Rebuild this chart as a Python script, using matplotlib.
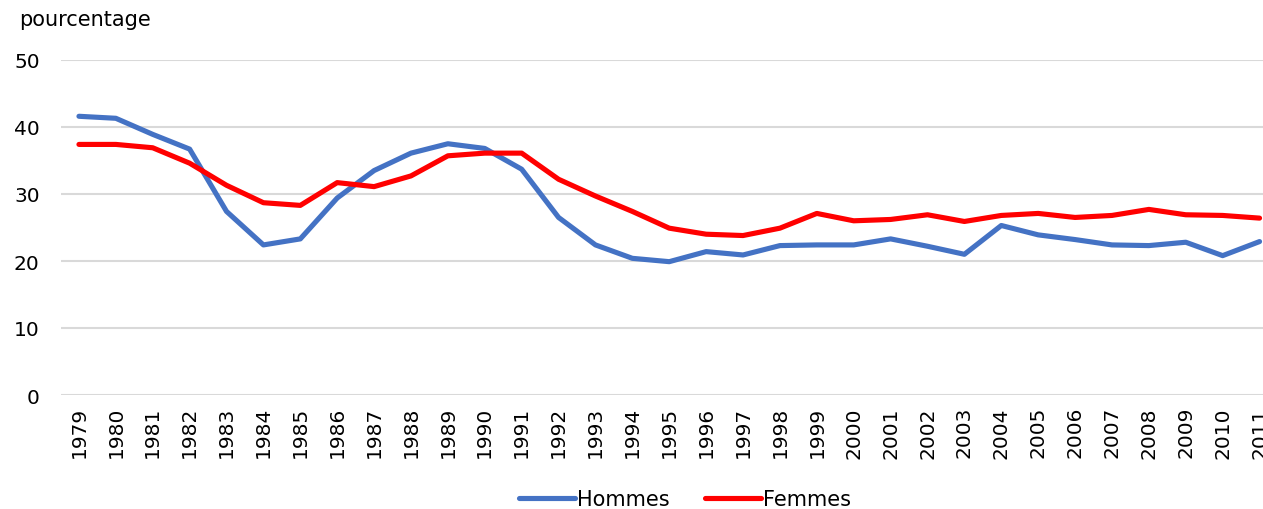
import matplotlib
matplotlib.use("Agg")
import matplotlib.pyplot as plt

years = list(range(1979, 2012))
hommes = [41.6, 41.3, 38.9, 36.7, 27.4, 22.4, 23.3, 29.4, 33.5, 36.1, 37.5, 36.8,
          33.7, 26.5, 22.4, 20.4, 19.9, 21.4, 20.9, 22.3, 22.4, 22.4, 23.3, 22.2,
          21.0, 25.3, 23.9, 23.2, 22.4, 22.3, 22.8, 20.8, 22.9]
femmes = [37.4, 37.4, 36.9, 34.6, 31.3, 28.7, 28.3, 31.7, 31.1, 32.7, 35.7, 36.1,
          36.1, 32.2, 29.7, 27.4, 24.9, 24.0, 23.8, 24.9, 27.1, 26.0, 26.2, 26.9,
          25.9, 26.8, 27.1, 26.5, 26.8, 27.7, 26.9, 26.8, 26.4]
yticks = [0, 10, 20, 30, 40, 50]

W, H = 1263, 510
fig = plt.figure(figsize=(W / 100, H / 100), dpi=100)
left, right, bottom, top = 60.5, 1278, 396, 61
ax = fig.add_axes([left / W, 1 - bottom / H, (right - left) / W, (bottom - top) / H])

ax.plot(years, hommes, color="#4472C4", lw=3.7, label="Hommes", solid_capstyle="round")
ax.plot(years, femmes, color="#FF0000", lw=3.7, label="Femmes", solid_capstyle="round")

ax.set_xlim(1978.5, 2011.5)
ax.set_ylim(0, 50)
ax.set_yticks(yticks)
ax.set_xticks(years)
ax.set_xticklabels([str(y) for y in years], rotation=90)
ax.grid(axis="y", color="#D9D9D9", lw=1.5)
ax.set_axisbelow(True)
for s in ax.spines.values():
    s.set_visible(False)
ax.tick_params(axis="both", length=0, labelsize=14.5, colors="#000000")
ax.tick_params(axis="y", pad=15)
ax.tick_params(axis="x", pad=8)

fig.text(19 / W, 1 - 20 / H, "pourcentage", fontsize=15, va="center", ha="left")

fig.legend(loc="center", bbox_to_anchor=(685 / W, 1 - 500 / H), ncol=2, frameon=False,
           fontsize=15, handlelength=2.7, columnspacing=1.7, handletextpad=0.1,
           borderaxespad=0)

fig.savefig("out.png", dpi=100)
